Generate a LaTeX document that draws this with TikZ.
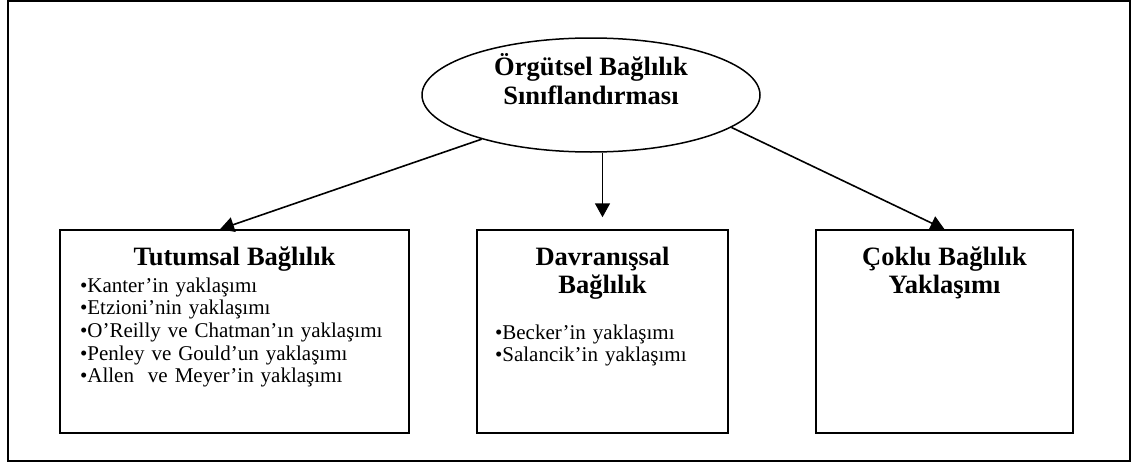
\documentclass[tikz,border=0pt]{standalone}
\usepackage{fontspec}
\setmainfont{Liberation Serif}
\usepackage{tikz}
\usetikzlibrary{arrows.meta, shapes, positioning, calc}

\newcommand{\baslikfont}{\fontsize{26.5pt}{28.5pt}\selectfont\bfseries}
\newcommand{\maddefont}{\fontsize{21pt}{22.7pt}\selectfont}

\begin{document}
\begin{tikzpicture}[x=1pt, y=-1pt,
    kutu/.style={shape=rectangle, draw=black, line width=1.5pt, inner ysep=0pt, text height=35pt, text depth=168pt, align=left, font=\maddefont},
    ok/.style={line width=1.6pt, -{Triangle[length=14pt, width=15pt]}}]
    \useasboundingbox (0,0) rectangle (1132,463);
    \draw[line width=2pt] (8,1) rectangle (1130,461);

    % ust elips
    \node[shape=ellipse, draw=black, line width=1.5pt, minimum width=338pt, minimum height=114pt, inner sep=0pt, align=center, text height=49pt, text depth=31pt, font=\baslikfont] (kok) at (591,95) {Örgütsel Bağlılık\\Sınıflandırması};

    % alt kutular
    \node[kutu, text width=309pt, inner xsep=20pt] (tutum) at (234.5,331.5) {%
        {\baslikfont\centering Tutumsal Bağlılık\par}\vspace{4.3pt}
        •Kanter’in yaklaşımı\\
        •Etzioni’nin yaklaşımı\\
        •O’Reilly ve Chatman’ın yaklaşımı\\
        •Penley ve Gould’un yaklaşımı\\
        •Allen\ \ ve Meyer’in yaklaşımı};
    \node[kutu, text width=215pt, inner xsep=18pt] (davran) at (602.5,331.5) {%
        {\baslikfont\centering Davranışsal\\Bağlılık\par}\vspace{23pt}
        •Becker’in yaklaşımı\\
        •Salancik’in yaklaşımı};
    \node[kutu, text width=221pt, inner xsep=18pt] (coklu) at (944.5,331.5) {%
        {\baslikfont\centering Çoklu Bağlılık\\Yaklaşımı\par}};

    \draw[ok] (kok.202) -- ([xshift=-14.5pt]tutum.north);
    \draw[ok] (davran.north |- kok.south) -- ([yshift=12pt]davran.north);
    \draw[ok] (kok.347) -- (coklu.north);
\end{tikzpicture}
\end{document}
